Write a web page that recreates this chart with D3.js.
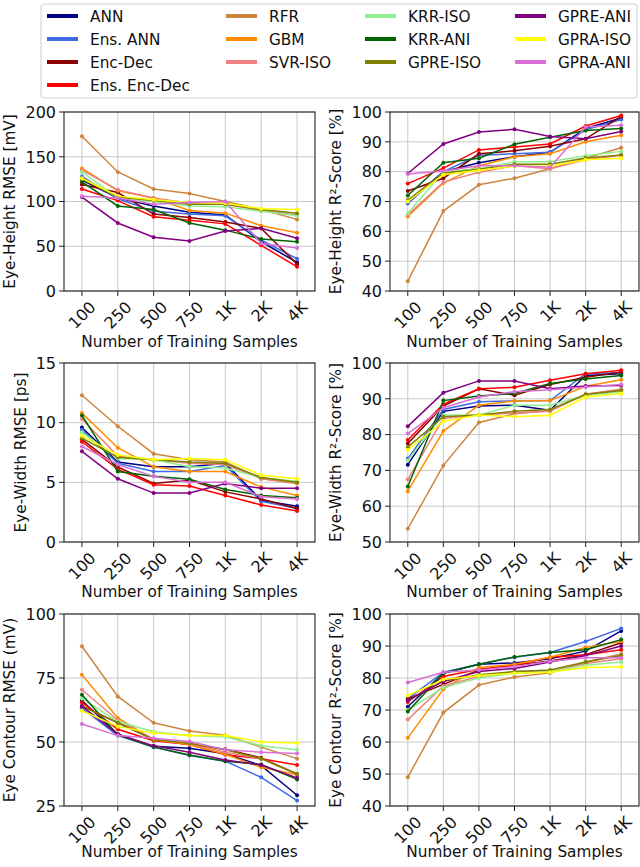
<!DOCTYPE html>
<html>
<head>
<meta charset="utf-8">
<script src="https://cdn.jsdelivr.net/npm/d3@7"></script>
<style>
  body { margin: 0; background: #fff; }
  text { font-family: "DejaVu Sans", sans-serif; fill: #111; }
</style>
</head>
<body>
<svg id="chart" width="640" height="867"></svg>
<script>
var sampleLabels = ["100", "250", "500", "750", "1K", "2K", "4K"];

var seriesNames = ["ANN", "Ens. ANN", "Enc-Dec", "Ens. Enc-Dec", "RFR", "GBM", "SVR-ISO",
  "KRR-ISO", "KRR-ANI", "GPRE-ISO", "GPRE-ANI", "GPRA-ISO", "GPRA-ANI"];

var seriesColors = ["#000080", "#4169e1", "#8b0000", "#ff0000", "#cd853f", "#ff8c00", "#f08080",
  "#90ee90", "#006400", "#808000", "#800080", "#ffff00", "#da70d6"];

// one row per series, same order as seriesNames
var ehRmse = [
  [124, 104, 95, 88, 85, 55, 32],
  [128, 103, 89, 86, 84, 57, 36],
  [119, 110, 86, 82, 77, 70, 30],
  [114, 101, 83, 79, 75, 51, 27],
  [173, 133, 114, 109, 100, 91, 80],
  [137, 112, 104, 90, 87, 73, 65],
  [135, 113, 104, 98, 97, 90, 85],
  [133, 104, 100, 95, 94, 89, 84],
  [122, 95, 91, 76, 68, 58, 55],
  [125, 105, 101, 97, 97, 91, 87],
  [105, 76, 60, 56, 67, 70, 59],
  [126, 106, 102, 99, 98, 92, 91],
  [106, 104, 97, 99, 100, 53, 48]
];

var ehR2 = [
  [70, 80, 83, 85, 86.5, 94.5, 98],
  [69.3, 80, 85.5, 86, 86.5, 94, 97.5],
  [73.5, 77.8, 86, 87, 88.5, 91, 98.5],
  [76, 81.2, 87.3, 88.3, 89.3, 95.3, 98.8],
  [43.3, 66.8, 75.6, 77.8, 81, 84.5, 88],
  [65, 76.2, 82, 85, 86, 90, 92.2],
  [65.5, 76.5, 79.8, 82, 81, 84, 85.5],
  [66, 80, 81, 83.3, 83.3, 85.3, 86.8],
  [72, 83, 84.5, 89.2, 91.5, 93.8, 94.5],
  [70.5, 79.5, 80.8, 82.5, 82.5, 84.6, 85.6],
  [79.4, 89.3, 93.3, 94.2, 91.8, 91, 93.5],
  [70, 79, 80.5, 81.8, 81.8, 84, 84.5],
  [79.2, 80.2, 82, 82, 81.5, 95, 95.6]
];

var ewRmse = [
  [9.6, 6.7, 6.3, 6.3, 6.6, 3.5, 3.0],
  [9.4, 6.6, 5.9, 5.9, 6.4, 3.4, 2.8],
  [8.6, 6.3, 4.9, 5.2, 4.2, 3.6, 2.8],
  [8.4, 6.1, 4.8, 4.7, 3.9, 3.1, 2.6],
  [12.3, 9.7, 7.4, 6.9, 6.7, 5.3, 4.9],
  [10.8, 7.9, 6.3, 5.9, 5.9, 4.6, 3.9],
  [10.3, 7.2, 6.9, 6.6, 6.5, 5.3, 5.0],
  [9.2, 7.0, 6.9, 6.3, 6.2, 5.4, 5.1],
  [10.6, 5.9, 5.5, 5.25, 4.4, 3.9, 3.7],
  [8.7, 7.1, 6.9, 6.7, 6.6, 5.4, 5.0],
  [7.6, 5.3, 4.1, 4.1, 4.9, 4.5, 4.5],
  [8.9, 7.3, 6.9, 7.0, 6.9, 5.6, 5.3],
  [8.0, 6.5, 5.5, 5.0, 5.0, 3.8, 3.6]
];

var ewR2 = [
  [71.6, 86.5, 88, 88.2, 86.8, 96.5, 97],
  [73.3, 87, 89.2, 89.4, 89.5, 97, 97.3],
  [77.5, 88, 92.8, 91, 94, 96, 97.5],
  [78.5, 88.5, 92.8, 93.2, 95.2, 97, 98],
  [53.7, 71.4, 83.4, 85.8, 86.7, 91.3, 92.7],
  [64.2, 81, 88.2, 89.4, 89.5, 93.5, 95.3],
  [67.5, 84.5, 85.5, 86, 86.5, 91.3, 92.5],
  [72.8, 85.5, 85.5, 88.2, 88.2, 91, 92],
  [65.5, 89.5, 90.8, 91.5, 94.3, 95.5, 96.5],
  [76.5, 85, 85.5, 86.5, 87, 91.2, 92.3],
  [82.3, 91.7, 95, 95, 92.8, 93.6, 93.7],
  [75.7, 83.7, 85.5, 85, 85.4, 90.5, 91.5],
  [80.3, 87.5, 90.5, 92, 92.5, 93.3, 94]
];

var ecRmse = [
  [66.2, 53, 48.3, 47.6, 45.4, 40.8, 29.2],
  [63.2, 52.5, 48, 44.7, 42.5, 36.2, 27.1],
  [64.1, 57.5, 51, 49, 47.2, 43.8, 37.5],
  [65.5, 55, 50.5, 49, 45, 43.5, 41],
  [87.4, 67.8, 57.5, 54.3, 52.6, 48, 43.5],
  [76.3, 59.4, 50.9, 49, 45.2, 40.1, 37.2],
  [70.4, 58.5, 51, 49.5, 46, 43.5, 37.5],
  [67, 58, 54, 52.5, 52, 48.5, 47],
  [68.5, 52.8, 48, 44.9, 42.5, 41.2, 35.4],
  [64, 57.5, 51, 49.5, 47, 43.5, 37.5],
  [64, 53, 48.5, 46, 43, 41, 36],
  [62.2, 56, 53.5, 52.5, 52.5, 50, 49.6],
  [57, 52.5, 51.5, 50.2, 47, 46, 45.5]
];

var ecR2 = [
  [71, 81.5, 84.3, 84.7, 86, 88.4, 94.7],
  [73.5, 81.8, 84.3, 86.5, 88, 91.4, 95.5],
  [73.5, 78, 82.5, 84, 85.3, 87.3, 91],
  [72.5, 80.5, 82.7, 84, 86.5, 87.3, 88.8],
  [49, 69.2, 77.8, 80.3, 81.6, 85, 87.5],
  [61.3, 76.5, 83.3, 84.3, 86.5, 89.5, 91.5],
  [67, 77.5, 80.5, 82, 82, 84.5, 86],
  [70, 77, 80, 81.5, 82, 84, 85],
  [69.5, 81.5, 84.3, 86.6, 88, 88.8, 92],
  [73, 79, 81, 82, 82.5, 85, 87],
  [73, 79, 82, 83, 85, 87, 90],
  [74.5, 79.5, 80.8, 81.5, 81.8, 83.3, 83.5],
  [78.6, 81.8, 82.5, 83.6, 85.2, 86.3, 86.3]
];

var fontSize = 15.3,
    tickSize = 16;

var panels = [
  {data: ehRmse, label: "Eye-Height RMSE [mV]", domain: [0, 200], ticks: [0, 50, 100, 150, 200], x0: 64, x1: 315, y0: 112, y1: 291, lab: 56},
  {data: ehR2, label: "Eye-Height R\u00b2-Score [%]", domain: [40, 100], ticks: d3.range(40, 101, 10), x0: 390, x1: 639, y0: 112, y1: 291, lab: 56},
  {data: ewRmse, label: "Eye-Width RMSE [ps]", domain: [0, 15], ticks: [0, 5, 10, 15], x0: 64, x1: 315, y0: 363, y1: 542, lab: 55},
  {data: ewR2, label: "Eye-Width R\u00b2-Score [%]", domain: [50, 100], ticks: d3.range(50, 101, 10), x0: 390, x1: 639, y0: 363, y1: 542, lab: 55},
  {data: ecRmse, label: "Eye Contour RMSE (mV)", domain: [25, 100], ticks: [25, 50, 75, 100], x0: 64, x1: 315, y0: 614, y1: 806, lab: 51},
  {data: ecR2, label: "Eye Contour R\u00b2-Score [%]", domain: [40, 100], ticks: d3.range(40, 101, 10), x0: 390, x1: 639, y0: 614, y1: 806, lab: 51}
];

var svg = d3.select("#chart");

panels.forEach(function(p) {
  var x = d3.scalePoint()
    .domain(sampleLabels)
    .range([p.x0, p.x1])
    .padding(0.5);

  var y = d3.scaleLinear()
    .domain(p.domain)
    .range([p.y1, p.y0]);

  var g = svg.append("g");

  // grid
  g.append("g").selectAll("line")
    .data(sampleLabels)
    .enter().append("line")
      .attr("x1", d => x(d)).attr("x2", d => x(d))
      .attr("y1", p.y0).attr("y2", p.y1)
      .attr("stroke", "#c8c8c8").attr("stroke-width", 1);

  g.append("g").selectAll("line")
    .data(p.ticks)
    .enter().append("line")
      .attr("x1", p.x0).attr("x2", p.x1)
      .attr("y1", d => y(d)).attr("y2", d => y(d))
      .attr("stroke", "#c8c8c8").attr("stroke-width", 1);

  // series
  var line = d3.line()
    .x(function(d, i) { return x(sampleLabels[i]); })
    .y(function(d) { return y(d); });

  p.data.forEach(function(vals, si) {
    g.append("path")
      .datum(vals)
      .attr("fill", "none")
      .attr("stroke", seriesColors[si])
      .attr("stroke-width", 1.5)
      .attr("d", line);
    g.selectAll(null)
      .data(vals)
      .enter().append("circle")
        .attr("cx", function(d, i) { return x(sampleLabels[i]); })
        .attr("cy", d => y(d))
        .attr("r", 2)
        .attr("fill", seriesColors[si]);
  });

  // frame
  g.append("rect")
    .attr("x", p.x0).attr("y", p.y0)
    .attr("width", p.x1 - p.x0).attr("height", p.y1 - p.y0)
    .attr("fill", "none").attr("stroke", "#222").attr("stroke-width", 1.1);

  // y ticks
  var yt = g.append("g");
  yt.selectAll("line")
    .data(p.ticks)
    .enter().append("line")
      .attr("x1", p.x0 - 5).attr("x2", p.x0)
      .attr("y1", d => y(d)).attr("y2", d => y(d))
      .attr("stroke", "#222");
  var ytl = yt.append("g");
  ytl.selectAll("text")
    .data(p.ticks)
    .enter().append("text")
      .attr("x", p.x0 - 8)
      .attr("y", d => y(d))
      .attr("dy", "0.36em")
      .attr("text-anchor", "end")
      .attr("font-size", tickSize)
      .text(d => d);

  // x ticks, rotated labels
  var xt = g.append("g");
  xt.selectAll("line")
    .data(sampleLabels)
    .enter().append("line")
      .attr("x1", d => x(d)).attr("x2", d => x(d))
      .attr("y1", p.y1).attr("y2", p.y1 + 5)
      .attr("stroke", "#222");
  xt.selectAll("text")
    .data(sampleLabels)
    .enter().append("text")
      .attr("text-anchor", "middle")
      .attr("dy", "0.36em")
      .attr("font-size", tickSize)
      .text(d => d)
      .each(function(d) {
        var w = this.getComputedTextLength();
        var bh = (w + 0.73 * tickSize) / Math.SQRT2;
        d3.select(this).attr("transform",
          "translate(" + x(d) + "," + (p.y1 + 9 + bh / 2) + ") rotate(-45)");
      });

  // axis labels
  var bb = ytl.node().getBBox();
  var lx = bb.x - 10;
  var ly = (p.y0 + p.y1) / 2;
  g.append("text")
    .attr("x", lx).attr("y", ly)
    .attr("transform", "rotate(-90," + lx + "," + ly + ")")
    .attr("text-anchor", "middle")
    .attr("font-size", fontSize)
    .text(p.label);

  g.append("text")
    .attr("x", (p.x0 + p.x1) / 2)
    .attr("y", p.y1 + p.lab)
    .attr("text-anchor", "middle")
    .attr("font-size", fontSize)
    .text("Number of Training Samples");
});

// legend
var legendCols = [47, 226, 365, 515];
var legendRows = [16, 39, 62, 85];
var colOf = [0, 0, 0, 0, 1, 1, 1, 2, 2, 2, 3, 3, 3];
var rowOf = [0, 1, 2, 3, 0, 1, 2, 0, 1, 2, 0, 1, 2];

var legend = svg.append("g");
legend.append("rect")
  .attr("x", 41).attr("y", 4)
  .attr("width", 596).attr("height", 94)
  .attr("rx", 3)
  .attr("fill", "#fff")
  .attr("stroke", "#d0d0d0");

var items = legend.selectAll("g.item")
  .data(seriesNames)
  .enter().append("g")
    .attr("transform", function(d, i) {
      return "translate(" + legendCols[colOf[i]] + "," + legendRows[rowOf[i]] + ")";
    });

items.append("line")
  .attr("x1", 0).attr("x2", 31)
  .attr("stroke", (d, i) => seriesColors[i])
  .attr("stroke-width", 4);

items.append("text")
  .attr("x", 43)
  .attr("dy", "0.36em")
  .attr("font-size", fontSize)
  .text(d => d);
</script>
</body>
</html>
